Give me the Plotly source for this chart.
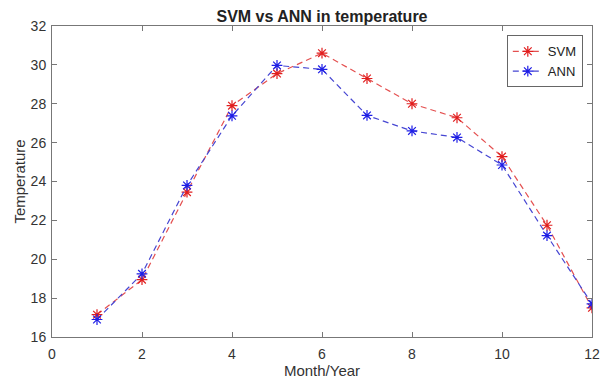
import plotly.graph_objects as go

months = [1, 2, 3, 4, 5, 6, 7, 8, 9, 10, 11, 12]
svm = [17.15, 18.95, 23.45, 27.9, 29.55, 30.6, 29.3, 28.0, 27.28, 25.28, 21.75, 17.5]
ann = [16.9, 19.25, 23.8, 27.38, 29.97, 29.77, 27.4, 26.6, 26.27, 24.85, 21.22, 17.7]
x_ticks = [0, 2, 4, 6, 8, 10, 12]
y_ticks = [16, 18, 20, 22, 24, 26, 28, 30, 32]

font = "Liberation Sans, Arial, sans-serif"

fig = go.Figure()
fig.add_trace(go.Scatter(
    x=months, y=svm, name="SVM", mode="lines+markers",
    line=dict(color="rgb(228,80,80)", width=1.2, dash="6px,4px"),
    marker=dict(symbol="asterisk-open", size=9, color="rgb(225,30,30)",
                line=dict(color="rgb(225,30,30)", width=1.2)),
))
fig.add_trace(go.Scatter(
    x=months, y=ann, name="ANN", mode="lines+markers",
    line=dict(color="rgb(70,70,210)", width=1.2, dash="6px,4px"),
    marker=dict(symbol="asterisk-open", size=9, color="rgb(30,30,230)",
                line=dict(color="rgb(30,30,230)", width=1.2)),
))

axis_common = dict(
    showline=True, linecolor="#777", linewidth=1, mirror="ticks",
    ticks="inside", ticklen=5, tickcolor="#777", showgrid=False, zeroline=False,
    tickfont=dict(family=font, size=14, color="#333"),
)
fig.update_layout(
    width=609, height=382,
    margin=dict(l=52, r=9, t=26, b=41),
    paper_bgcolor="white", plot_bgcolor="white",
    title=dict(text="<b>SVM vs ANN in temperature</b>", x=0.5, xanchor="center",
               xref="paper", y=1 - 16 / 382, yanchor="middle",
               font=dict(family=font, size=16, color="#222")),
    xaxis=dict(range=[0, 12], tickvals=x_ticks, ticklabelstandoff=4,
               title=dict(text="Month/Year", font=dict(family=font, size=15, color="#333"), standoff=1),
               **axis_common),
    yaxis=dict(range=[16, 32], tickvals=y_ticks, ticklabelstandoff=2,
               title=dict(text="Temperature", font=dict(family=font, size=15, color="#333"), standoff=1),
               **axis_common),
    legend=dict(x=0.983, y=0.97, xanchor="right", yanchor="top",
                bordercolor="#666", borderwidth=1, bgcolor="white",
                font=dict(family=font, size=13, color="#222"),
                tracegroupgap=0, itemwidth=30),
    showlegend=True,
)
fig.write_html("out.html")
